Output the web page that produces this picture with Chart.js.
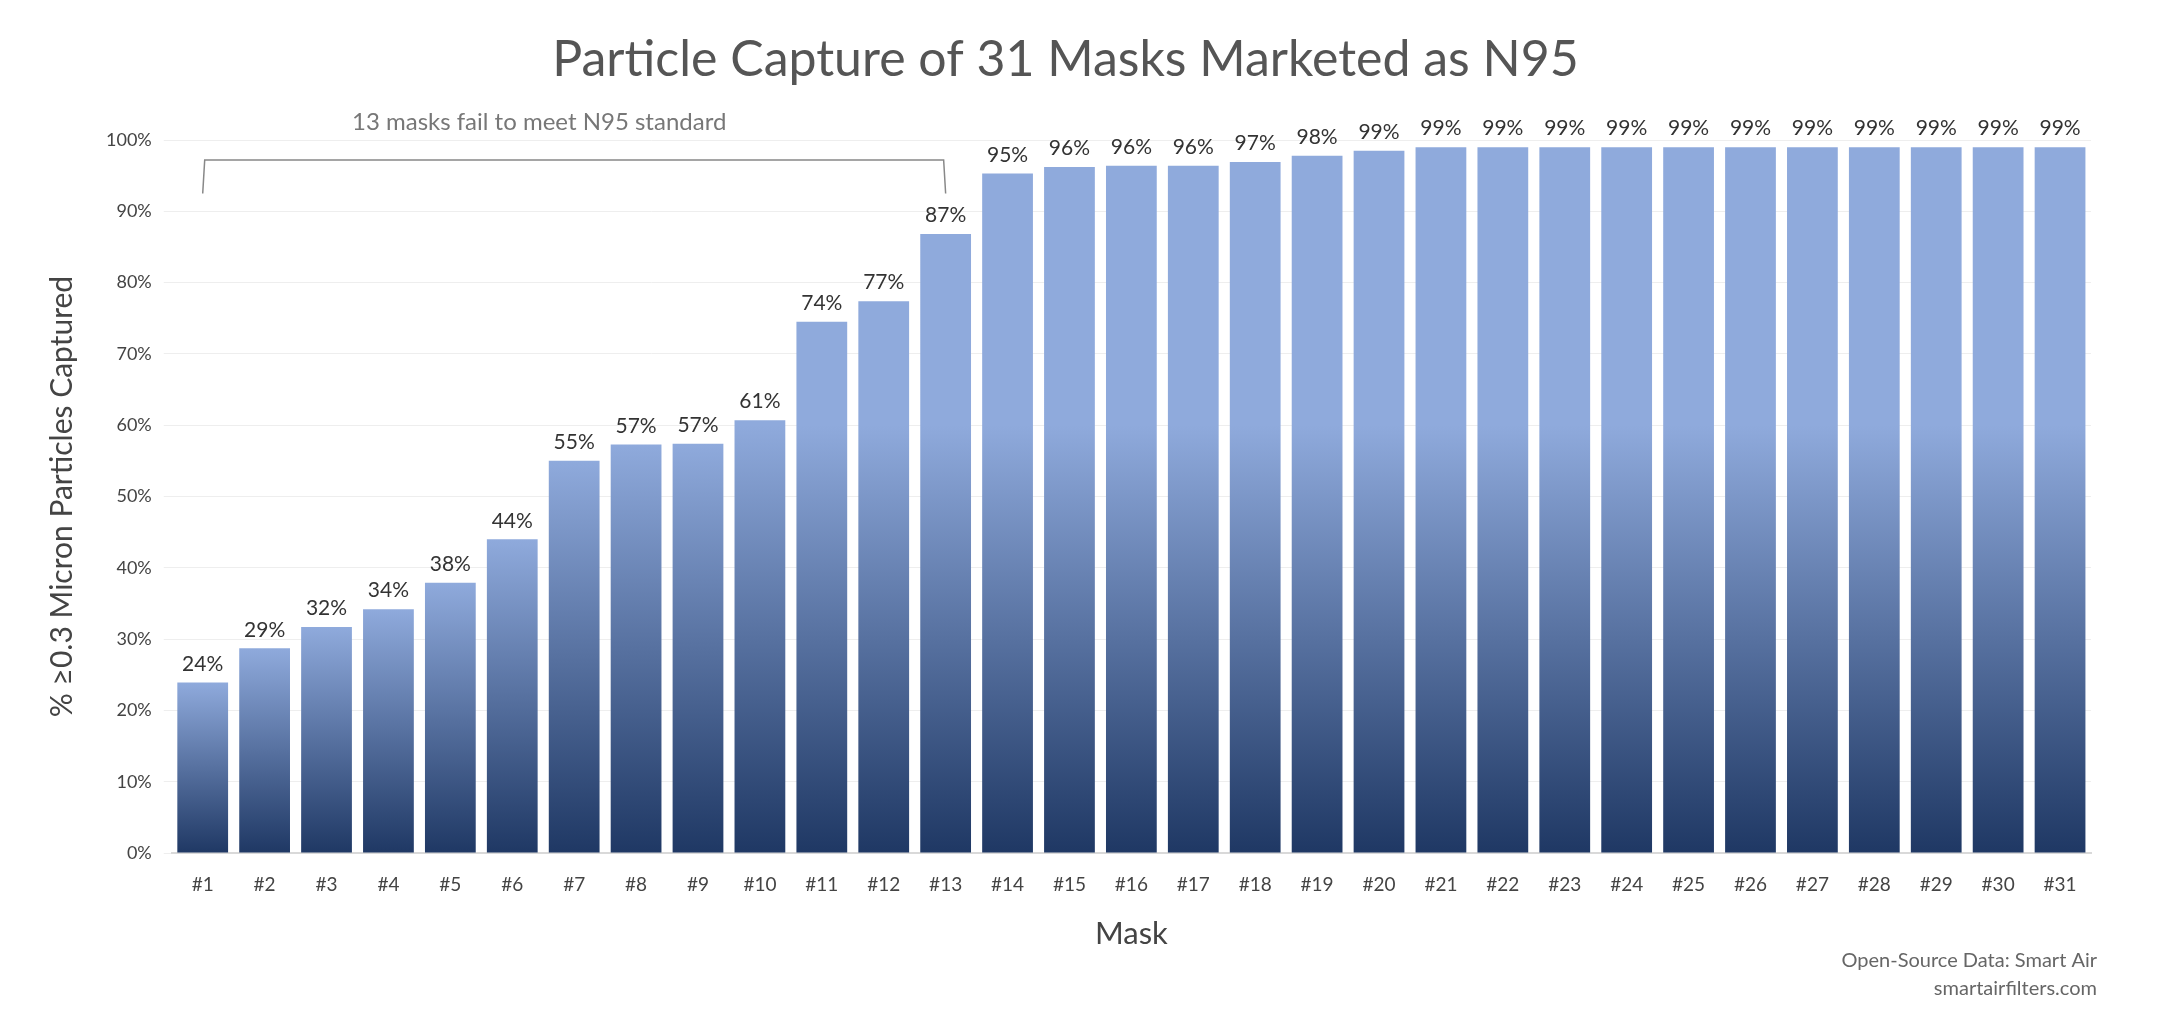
<!DOCTYPE html><html><head><meta charset="utf-8">
<script src="https://cdn.jsdelivr.net/npm/chart.js@4/dist/chart.umd.min.js"></script>
<style>html,body{margin:0;background:#fff}</style></head><body><canvas id="c" width="2161" height="1017"></canvas>
<script>
const categories=[];for(let i=1;i<=31;i++)categories.push('#'+i);
const captureValues=[23.9,28.7,31.7,34.2,37.9,44.0,55.0,57.3,57.4,60.7,74.5,77.4,86.8,95.3,96.2,96.4,96.4,96.9,97.8,98.5,99,99,99,99,99,99,99,99,99,99,99];
const valueLabels=['24%','29%','32%','34%','38%','44%','55%','57%','57%','61%','74%','77%','87%','95%','96%','96%','96%','97%','98%','99%','99%','99%','99%','99%','99%','99%','99%','99%','99%','99%','99%'];
const yTicks=[0,10,20,30,40,50,60,70,80,90,100];
const annotationText='13 masks fail to meet N95 standard';
const F='Lato, "Open Sans", sans-serif';
const extras={id:'extras',afterDatasetsDraw(ch){
 const c=ch.ctx,x=ch.scales.x,y=ch.scales.y;
 c.save();c.font='21px '+F;c.fillStyle='#333';c.textAlign='center';c.textBaseline='bottom';
 ch.getDatasetMeta(0).data.forEach((b,i)=>c.fillText(valueLabels[i],b.x,b.y-8));
 const x1=x.getPixelForValue(0),x2=x.getPixelForValue(12),yt=y.getPixelForValue(97.2),yb=y.getPixelForValue(92.5);
 c.strokeStyle='#888';c.lineWidth=1.5;c.beginPath();c.moveTo(x1,yb);c.lineTo(x1+2,yt);c.lineTo(x2-2,yt);c.lineTo(x2,yb);c.stroke();
 c.font='24px '+F;c.fillStyle='#777';c.textBaseline='middle';
 c.fillText(annotationText,(x1+x2)/2-35,y.getPixelForValue(102.5));
 c.textAlign='right';c.font='20px '+F;c.fillStyle='#666';
 c.fillText('Open-Source Data: Smart Air',2097,961);c.fillText('smartairfilters.com',2097,989);
 c.restore();}};
new Chart(document.getElementById('c'),{type:'bar',
 data:{labels:categories,datasets:[{data:captureValues,categoryPercentage:1,barPercentage:0.82,
  backgroundColor(ctx){const ch=ctx.chart;const y=ch.scales&&ch.scales.y;
   if(!ch.chartArea||!y||typeof ctx.raw!=='number')return '#8faadc';
   const top=y.getPixelForValue(ctx.raw),bot=y.getPixelForValue(0);
   if(!isFinite(top)||!isFinite(bot)||bot-top<=0)return '#8faadc';
   const g=ch.ctx.createLinearGradient(0,top,0,bot);
   const mid=Math.max(0,Math.min(1,(y.getPixelForValue(60)-top)/(bot-top)));
   g.addColorStop(0,'#8faadc');g.addColorStop(mid,'#8faadc');g.addColorStop(1,'#1f3864');return g;}}]},
 plugins:[extras],
 options:{responsive:false,animation:false,devicePixelRatio:1,
  layout:{padding:{left:40,right:70,top:10,bottom:60}},
  plugins:{legend:{display:false},tooltip:{enabled:false},
   title:{display:true,text:'Particle Capture of 31 Masks Marketed as N95',font:{family:F,size:50,weight:'normal'},color:'#555',padding:{top:20,bottom:50}}},
  scales:{x:{grid:{display:false},border:{color:'#d9d9d9',width:2},ticks:{font:{family:F,size:19},color:'#444',padding:12},
    title:{display:true,text:'Mask',font:{family:F,size:31},color:'#444',padding:{top:8}}},
   y:{min:0,max:100,afterBuildTicks(a){a.ticks=yTicks.map(v=>({value:v}));},border:{display:false},grid:{color:'#eeeeee'},
    ticks:{font:{family:F,size:18},color:'#444',callback:v=>v+'%',padding:12},
    title:{display:true,text:'% ≥0.3 Micron Particles Captured',font:{family:F,size:30},color:'#444',padding:{bottom:14}}}}}});
</script></body></html>
